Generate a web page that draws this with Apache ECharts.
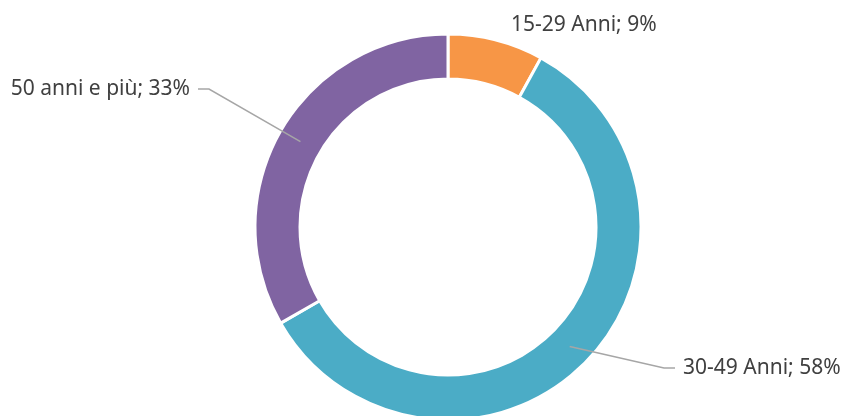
<!DOCTYPE html>
<html>
<head>
<meta charset="utf-8">
<script src="https://cdn.jsdelivr.net/npm/echarts@6/dist/echarts.min.js"></script>
<style>
  html, body { margin: 0; padding: 0; background: #fff; }
  #chart { width: 845px; height: 416px; }
</style>
</head>
<body>
<div id="chart"></div>
<script>
// fasce d'età
const categories = ['15-29 Anni', '30-49 Anni', '50 anni e più'];
const values = [8, 58.7, 33.3];
// percentages as printed in the labels
const labelPct = [9, 58, 33];
const colors = ['#F79646', '#4BACC6', '#8064A2'];

// where each label sits (text anchor), per slice
const labelAnchors = [
    { x: 511, y: 25, align: 'left' },
    { x: 683, y: 368, align: 'left' },
    { x: 190, y: 89, align: 'right' }
];

const CX = 448, CY = 227, R_IN = 148, R_OUT = 193;

const chart = echarts.init(document.getElementById('chart'));

const ring = {
    type: 'pie',
    center: [CX, CY],
    radius: [R_IN, R_OUT],
    startAngle: 90,
    clockwise: true,
    avoidLabelOverlap: false
};

const option = {
    animation: false,
    series: [
        // the coloured ring
        Object.assign({}, ring, {
            z: 2,
            itemStyle: { borderColor: '#ffffff', borderWidth: 3 },
            label: { show: false },
            labelLine: { show: false },
            data: categories.map((name, i) => ({
                name: name,
                value: values[i],
                itemStyle: { color: colors[i] }
            }))
        }),
        // same slices, invisible, only for labels so leader lines sit over the ring
        Object.assign({}, ring, {
            z: 5,
            silent: true,
            itemStyle: { color: 'rgba(0,0,0,0)', borderWidth: 0 },
            label: {
                show: true,
                position: 'outside',
                formatter: p => p.name + '; ' + labelPct[p.dataIndex] + '%',
                fontFamily: 'Noto Sans',
                fontSize: 21,
                color: '#404040'
            },
            labelLine: {
                show: true,
                length: 20,
                length2: 10,
                lineStyle: { color: '#A6A6A6', width: 1.5 }
            },
            labelLayout: params => {
                const a = labelAnchors[params.dataIndex];
                const out = {
                    x: a.x,
                    y: a.y,
                    align: a.align,
                    verticalAlign: 'middle'
                };
                if (params.labelLinePoints) {
                    // start the leader inside the ring, at mid thickness
                    const p = params.labelLinePoints[0];
                    const dx = p[0] - CX, dy = p[1] - CY;
                    const d = Math.sqrt(dx * dx + dy * dy);
                    const rm = (R_IN + R_OUT) / 2;
                    const start = [CX + dx / d * rm, CY + dy / d * rm];
                    const dir = a.align === 'left' ? -1 : 1;
                    const end = [a.x + dir * 8, a.y];
                    const knee = [end[0] + dir * 11, a.y];
                    out.labelLinePoints = [start, knee, end];
                }
                return out;
            },
            data: categories.map((name, i) => ({
                name: name,
                value: values[i],
                labelLine: { show: i !== 0 }
            }))
        })
    ]
};

chart.setOption(option);
</script>
</body>
</html>
